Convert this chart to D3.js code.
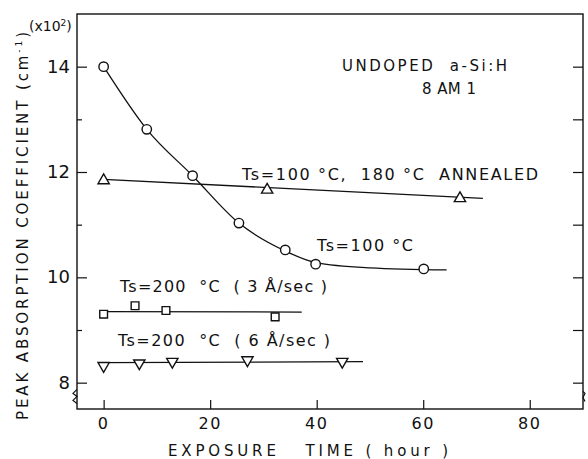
<!DOCTYPE html>
<html>
<head>
<meta charset="utf-8">
<script src="https://cdn.jsdelivr.net/npm/d3@7"></script>
<style>
  body { margin: 0; background: #fff; }
  text { font-family: "DejaVu Sans", "Liberation Sans", sans-serif; fill: #111; }
</style>
</head>
<body>
<svg id="chart"></svg>
<script>
// --- data (x: hours, y: x10^2 cm^-1) ---
const ts100 = [[0, 14.0], [8.1, 12.81], [16.7, 11.93], [25.4, 11.03], [34.1, 10.52], [39.8, 10.25], [60.1, 10.16]];
const ts100Curve = [[0, 14.0], [8.1, 12.81], [16.7, 11.93], [25.4, 11.03], [34.1, 10.50], [39.8, 10.28], [50, 10.18], [64.4, 10.14]];
const annealed = [[0, 11.84], [30.7, 11.66], [66.9, 11.50]];
const annealedLine = [[0, 11.86], [71.2, 11.50]];
const ts200slow = [[0, 9.30], [5.9, 9.46], [11.7, 9.37], [32.2, 9.25]];
const ts200slowLine = [[0, 9.35], [37.2, 9.34]];
const ts200fast = [[0, 8.32], [6.7, 8.37], [12.9, 8.40], [27.0, 8.43], [44.8, 8.40]];
const ts200fastLine = [[0, 8.38], [48.7, 8.40]];
const xTicks = [0, 20, 40, 60, 80];
const yMajor = [8, 10, 12, 14];
const yAll = [8, 9, 10, 11, 12, 13, 14];

const width = 588, height = 459;
const margin = {top: 14, right: 5, bottom: 50, left: 77};

const svg = d3.select("#chart").attr("width", width).attr("height", height);

const x = d3.scaleLinear().domain([-5, 90]).range([margin.left, width - margin.right]);
const y = d3.scaleLinear().domain([7.5, 15]).range([height - margin.bottom, margin.top]);

const ink = "#111";

// frame
svg.append("rect")
  .attr("x", margin.left).attr("y", margin.top)
  .attr("width", width - margin.left - margin.right)
  .attr("height", height - margin.top - margin.bottom)
  .attr("fill", "none").attr("stroke", ink).attr("stroke-width", 1.4);

// axis breaks (small zigzags near the bottom)
const bx = x(-5), by = y(7.72);
svg.append("path")
  .attr("d", `M${bx},${by - 8} l-4,4 l4,3 l-4,4 l4,3`)
  .attr("fill", "none").attr("stroke", ink).attr("stroke-width", 1.2);
const rx = x(90);
svg.append("path")
  .attr("d", `M${rx},${by - 6} l2,2 l-2,4 l2,4`)
  .attr("fill", "none").attr("stroke", ink).attr("stroke-width", 1.2);

// left axis: ticks inward, labels at majors
const yLeft = svg.append("g").attr("transform", `translate(${margin.left},0)`)
  .call(d3.axisRight(y).tickValues(yAll).tickSize(10).tickFormat(""));
yLeft.select(".domain").remove();
yLeft.selectAll(".tick line")
  .attr("x2", d => yMajor.includes(d) ? 10 : 5)
  .attr("stroke", ink).attr("stroke-width", 1.2);
svg.append("g").selectAll("text").data(yMajor).join("text")
  .attr("x", 70).attr("y", d => y(d) + 6)
  .attr("text-anchor", "end")
  .attr("font-size", 18)
  .text(d => d);

// right axis ticks inward
const yRight = svg.append("g").attr("transform", `translate(${width - margin.right},0)`)
  .call(d3.axisLeft(y).tickValues(yAll).tickSize(10).tickFormat(""));
yRight.select(".domain").remove();
yRight.selectAll(".tick line").attr("stroke", ink).attr("stroke-width", 1.2);

// bottom axis ticks inward
const xAx = svg.append("g").attr("transform", `translate(0,${height - margin.bottom})`)
  .call(d3.axisTop(x).tickValues(xTicks).tickSize(9).tickFormat(""));
xAx.select(".domain").remove();
xAx.selectAll(".tick line").attr("stroke", ink).attr("stroke-width", 1.2);
svg.append("g").selectAll("text").data(xTicks).join("text")
  .attr("x", d => x(d)).attr("y", height - margin.bottom + 20)
  .attr("text-anchor", "middle")
  .attr("font-size", 16).attr("letter-spacing", 1.5)
  .text(d => d);

// axis titles
svg.append("text")
  .attr("x", 168).attr("y", 456)
  .attr("font-size", 15)
  .attr("xml:space", "preserve")
  .attr("textLength", 280).attr("lengthAdjust", "spacing")
  .text("EXPOSURE   TIME ( hour )");

svg.append("text")
  .attr("transform", "translate(28,420) rotate(-90)")
  .attr("font-size", 15)
  .attr("textLength", 388).attr("lengthAdjust", "spacing")
  .html('PEAK ABSORPTION COEFFICIENT (cm<tspan dy="-6" font-size="9">-1</tspan><tspan dy="6">)</tspan>');

svg.append("text")
  .attr("x", 29).attr("y", 31)
  .attr("font-size", 14)
  .html('(x10<tspan dy="-5" font-size="9">2</tspan><tspan dy="5">)</tspan>');

// lines
const line = d3.line().x(d => x(d[0])).y(d => y(d[1]));
const curve = d3.line().x(d => x(d[0])).y(d => y(d[1])).curve(d3.curveMonotoneX);

svg.append("path").datum(ts100Curve).attr("d", curve)
  .attr("fill", "none").attr("stroke", ink).attr("stroke-width", 1.3);
[annealedLine, ts200slowLine, ts200fastLine].forEach(l => {
  svg.append("path").datum(l).attr("d", line)
    .attr("fill", "none").attr("stroke", ink).attr("stroke-width", 1.3);
});

// markers
const mk = (data, type, size, rotate) => {
  svg.append("g").selectAll("path").data(data).join("path")
    .attr("transform", d => `translate(${x(d[0])},${y(d[1])}) rotate(${rotate || 0})`)
    .attr("d", d3.symbol().type(type).size(size))
    .attr("fill", "#fff").attr("stroke", ink).attr("stroke-width", 1.4);
};
mk(ts100, d3.symbolCircle, 70);
mk(annealed, d3.symbolTriangle, 55);
mk(ts200slow, d3.symbolSquare, 60);
mk(ts200fast, d3.symbolTriangle, 55, 180);

// annotations
const note = (tx, ty, str, size, len) => {
  const t = svg.append("text").attr("x", tx).attr("y", ty)
    .attr("font-size", size).attr("xml:space", "preserve").text(str);
  if (len) t.attr("textLength", len).attr("lengthAdjust", "spacing");
};
note(342, 71, "UNDOPED  a-Si:H", 15, 165);
note(422, 94, "8 AM 1", 15, 54);
note(242, 180, "Ts=100 °C,  180 °C  ANNEALED", 16, 296);
note(317, 251, "Ts=100 °C", 16, 96);
note(120, 292, "Ts=200  °C  ( 3 Å/sec )", 16, 207);
note(118, 346, "Ts=200  °C  ( 6 Å/sec )", 16, 212);
</script>
</body>
</html>
